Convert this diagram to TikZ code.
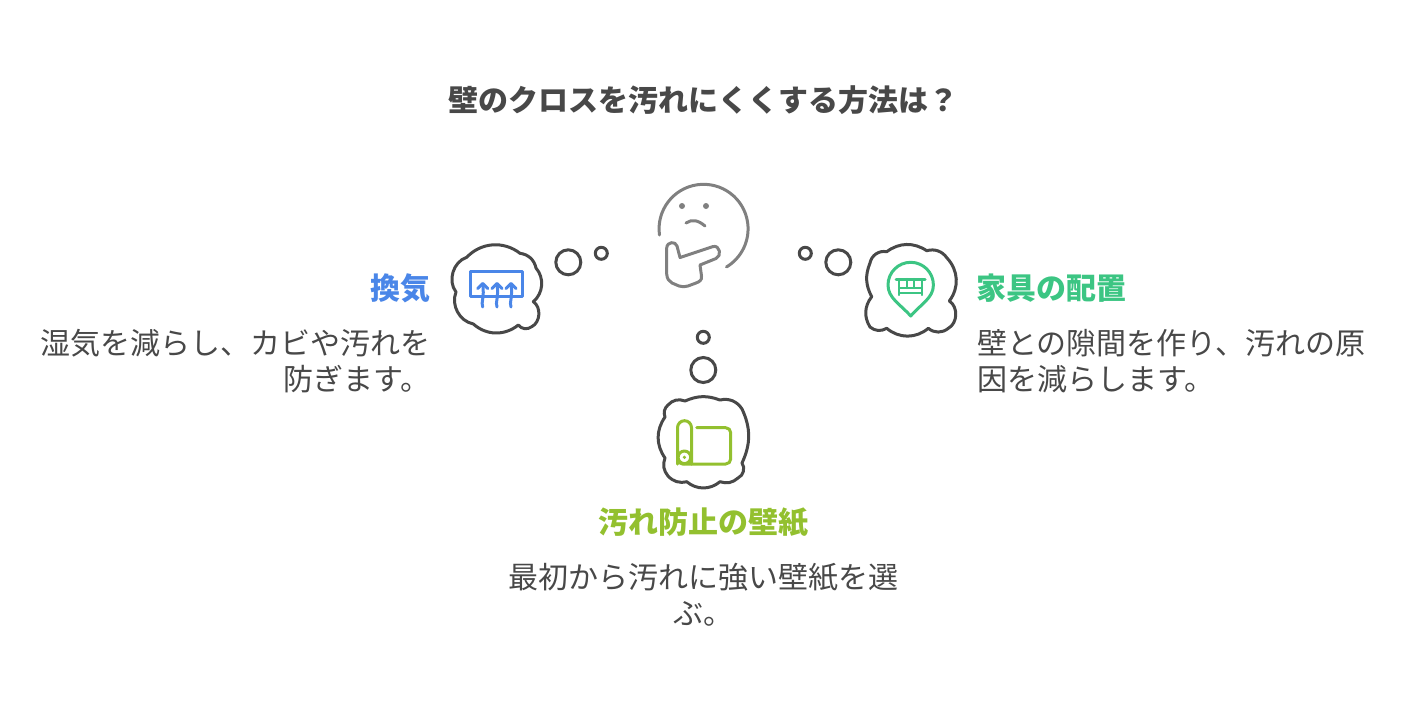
\documentclass[tikz,border=0pt]{standalone}
\usepackage{fontspec}
\setmainfont{Noto Sans CJK JP}
\definecolor{inkdark}{HTML}{484848}
\definecolor{inkgrey}{HTML}{808080}
\definecolor{inkblue}{HTML}{4A86E8}
\definecolor{inkgreen}{HTML}{3CC583}
\definecolor{inkolive}{HTML}{93C02F}
\tikzset{
	cloudline/.style={draw=inkdark,line width=3pt,line join=round},
	bubble/.style={circle,draw=inkdark,line width=3pt,inner sep=0pt},
	facestroke/.style={draw=inkgrey,line width=3pt,line cap=round,line join=round},
	iconstroke/.style={line width=3pt,line cap=round,line join=round},
	titletext/.style={font=\fontsize{30}{36}\selectfont\bfseries,text=inkdark},
	headtext/.style={font=\fontsize{30}{36}\selectfont\bfseries,inner sep=0pt},
	bodytext/.style={font=\fontsize{30}{36}\selectfont,text=inkdark}
}
\begin{document}
\begin{tikzpicture}[x=1pt,y=-1pt]
	\useasboundingbox (0,0) rectangle (1407,705);
	\node[titletext](title) at (703.5,100){壁のクロスを汚れにくくする方法は？};
	% face
	\draw[facestroke] (659.5,235) arc[start angle=172,end angle=419,radius=44.5];
	\fill[inkgrey] (682,206) circle (3) (706,206) circle (3);
	\draw[facestroke] (686,223) .. controls (692,219) and (698,220) .. (705,226);
	\draw[facestroke] (680,257.5) -- (677,246) .. controls (675.5,241) and (667,241.5) .. (666.7,248) -- (666.7,274) .. controls (667,279) and (669,281) .. (672,283) -- (679,286) .. controls (682,287) and (685,287) .. (688,286) -- (696,283) .. controls (700,281.5) and (702,280) .. (701.5,276) -- (700,265) -- (716,258.5) .. controls (722,256) and (720,245) .. (713,246.5) -- cycle;
	% bubbles
	\node[bubble,minimum size=25pt](leftbig) at (568.3,262.3){};
	\node[bubble,minimum size=12pt](leftsmall) at (601.3,253.3){};
	\node[bubble,minimum size=25pt](rightbig) at (838.3,262.3){};
	\node[bubble,minimum size=12pt](rightsmall) at (805.3,253.3){};
	\node[bubble,minimum size=25pt](lowbig) at (703.3,370){};
	\node[bubble,minimum size=12pt](lowsmall) at (703.3,337.3){};
	% clouds
	\draw[cloudline] (466.7,257.3) to[bend left=42] (520,253.3) to[bend left=35] (536,268) to[bend left=45] (533.3,301.7) to[bend left=60] (531.7,326.7) to[bend left=45] (518.3,325) to[bend left=40] (473.3,324) to[bend left=50] (456,292) to[bend left=55] cycle;
	\draw[cloudline] (886.7,251.7) to[bend left=35] (926.7,250.7) to[bend left=35] (947,258) to[bend left=40] (949.3,301) to[bend left=60] (948.3,328.3) to[bend left=40] (928.3,328.3) to[bend left=40] (886.7,328.3) to[bend left=35] (870,327) to[bend left=35] (871.7,296.7) to[bend left=25] (870,263) to[bend left=45] cycle;
	\draw[cloudline] (685,401) to[bend left=22] (720,400) to[bend left=35] (742,409) to[bend left=25] (742,463) to[bend left=50] (738,478) to[bend left=30] (720,481.7) to[bend left=40] (686.7,481.7) to[bend left=30] (668,476) to[bend left=30] (665,458) to[bend left=35] (665,417) to[bend left=35] (668,405) to[bend left=35] cycle;
	% vent icon
	\draw[iconstroke,draw=inkblue] (470.7,271) rectangle (522.3,296.7);
	\foreach \px in {482.7,497,511}{
		\draw[iconstroke,draw=inkblue] (\px,307) .. controls (\px-2,302) and (\px+2,298) .. (\px,284);
		\draw[iconstroke,draw=inkblue] (\px-5,288.5) -- (\px,283.5) -- (\px+5,288.5);
	}
	% pin icon
	\draw[iconstroke,draw=inkgreen] (910.7,316) .. controls (900,304) and (888,298) .. (888,285) arc[start angle=180,end angle=360,radius=22.7] .. controls (933.4,298) and (921,304) .. cycle;
	\draw[iconstroke,draw=inkgreen] (896,279) -- (925,279);
	\draw[iconstroke,draw=inkgreen,line width=2.4pt] (899.2,279) -- (899.2,295) (922,279) -- (922,295) (899.2,288) -- (922,288) (899.2,292.8) -- (922,292.8) (907,279) -- (907,288) (914,279) -- (914,288);
	% roll icon
	\draw[iconstroke,draw=inkolive,rounded corners=7pt] (677.5,464) -- (677.5,420.7) -- (691.5,420.7) -- (691.5,464);
	\draw[iconstroke,draw=inkolive,rounded corners=5pt] (696.7,427.7) -- (730.7,427.7) -- (730.7,464) -- (677.5,464) -- (677.5,450);
	\draw[iconstroke,draw=inkolive,fill=white] (684.4,457.3) circle (6.3);
	\fill[inkolive] (684.4,457.3) circle (1.8);
	% texts
	\node[headtext,text=inkblue,anchor=east](venthead) at (431,288.5){換気};
	\node[bodytext,anchor=north east,align=right,inner sep=0pt](ventbody) at (431,329){湿気を減らし、カビや汚れを\\防ぎます。};
	\node[headtext,text=inkgreen,anchor=west](furnhead) at (976.5,288.5){家具の配置};
	\node[bodytext,anchor=north west,align=left,inner sep=0pt](furnbody) at (977,329){壁との隙間を作り、汚れの原\\因を減らします。};
	\node[headtext,text=inkolive](paperhead) at (703.5,523){汚れ防止の壁紙};
	\node[bodytext,anchor=north,align=center,inner sep=0pt](paperbody) at (703.5,563){最初から汚れに強い壁紙を選\\ぶ。};
\end{tikzpicture}
\end{document}
